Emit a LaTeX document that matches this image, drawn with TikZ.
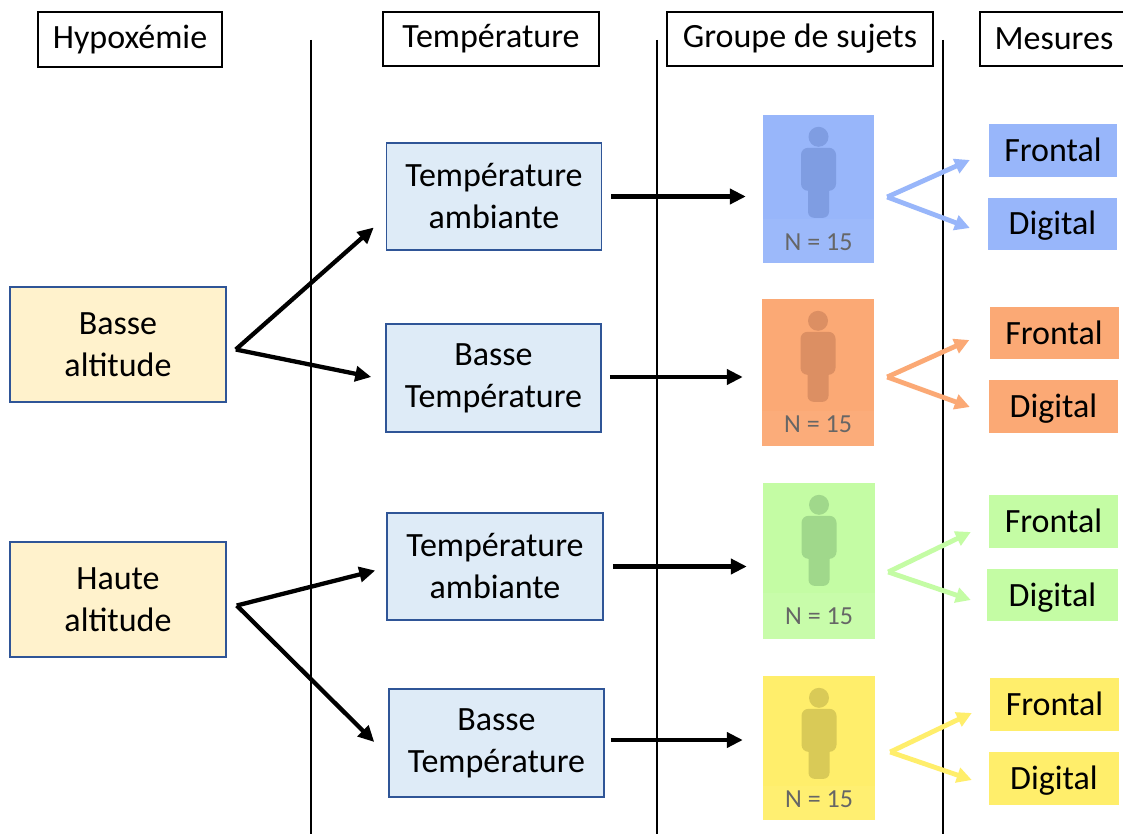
\documentclass[tikz,border=0pt]{standalone}
\usepackage{fontspec}
\setmainfont{Carlito}
\usetikzlibrary{arrows.meta,calc}
\definecolor{altfill}{HTML}{FFF2CC}
\definecolor{tempfill}{HTML}{DEEBF7}
\definecolor{boxborder}{HTML}{2F5597}
\definecolor{cblue}{HTML}{98B6FA}
\definecolor{cblueicon}{HTML}{7F9DE2}
\definecolor{corange}{HTML}{FBA975}
\definecolor{corangeicon}{HTML}{DC8F63}
\definecolor{cgreen}{HTML}{C4FCA4}
\definecolor{cgreenicon}{HTML}{A0D88B}
\definecolor{cyellow}{HTML}{FFEE6B}
\definecolor{cyellowicon}{HTML}{D9CA57}
\definecolor{ntext}{HTML}{666666}
\tikzset{
  bigfont/.style={font=\fontsize{34}{42}\selectfont},
  header/.style={draw=black, line width=1.3pt, font=\fontsize{34}{42}\selectfont, inner sep=0pt, anchor=center},
  altbox/.style={draw=boxborder, fill=altfill, line width=1.5pt, bigfont, align=center, minimum width=216pt, minimum height=115pt, inner sep=0pt},
  tempbox/.style={draw=boxborder, fill=tempfill, line width=1.5pt, bigfont, align=center, minimum width=215pt, minimum height=107pt, inner sep=0pt},
  grp/.style={draw=none, minimum width=111pt, inner sep=0pt},
  mes/.style={draw=none, bigfont, minimum width=129pt, minimum height=53pt, inner sep=0pt, text height=22pt, text depth=0pt},
  blk/.style={line width=4.3pt, -{Triangle[length=16pt,width=15pt]}},
  col/.style={line width=4.8pt, -{Triangle[length=15pt,width=15pt]}},
  divider/.style={line width=1.4pt, black},
  ntxt/.style={font=\fontsize{26}{30}\selectfont, text=ntext},
}
\newcommand\personicon[2]{%
  \fill[#2] ($(#1.north)+(0,22)$) circle (10);
  \fill[#2, rounded corners=7pt] ($(#1.north)+(-17.5,33)$) rectangle ($(#1.north)+(17.5,76)$);
  \fill[#2, rounded corners=6pt] ($(#1.north)+(-10.5,62)$) rectangle ($(#1.north)+(10.5,103)$);
}
\begin{document}
\begin{tikzpicture}[x=1pt,y=-1pt]
\useasboundingbox (0,0) rectangle (1123,834);
\fill[white] (0,0) rectangle (1123,834);

% dividers
\draw[divider] (311,40) -- (311,834);
\draw[divider] (657,40) -- (657,834);
\draw[divider] (943,40) -- (943,834);

% headers
\node[header, minimum width=184pt, minimum height=55pt] (h1) at (130,39.5) {Hypoxémie};
\node[header, minimum width=216pt, minimum height=54pt] (h2) at (491,39) {Température};
\node[header, minimum width=266pt, minimum height=54pt] (h3) at (800,39) {Groupe de sujets};
\node[header, minimum width=160pt, minimum height=54pt, text width=143pt, align=left] (h4) at (1060,39) {\hspace*{6pt}Mesures};

% altitude boxes
\node[altbox] (ba) at (118,344.5) {Basse\\altitude};
\node[altbox] (ha) at (118,599.5) {Haute\\altitude};

% temperature boxes
\node[tempbox] (ta1) at (494,196.5) {Température\\ambiante};
\node[tempbox, minimum height=108pt] (bt1) at (493.5,378) {Basse\\Température};
\node[tempbox, minimum width=216pt] (ta2) at (495,566.5) {Température\\ambiante};
\node[tempbox, minimum height=108pt] (bt2) at (496.5,743) {Basse\\Température};

% group boxes
\node[grp, fill=cblue, minimum height=148pt] (g1) at (818.5,189) {};
\node[grp, fill=corange, minimum width=112pt, minimum height=147pt] (g2) at (818,372.5) {};
\node[grp, fill=cgreen, minimum width=112pt, minimum height=156pt] (g3) at (819,561) {};
\node[grp, fill=cyellow, minimum width=112pt, minimum height=144pt] (g4) at (819,748) {};

\fill[cblue!96!white] ($(g1.north west)+(0,104)$) rectangle (g1.south east);
\fill[corange!96!white] ($(g2.north west)+(0,112)$) rectangle (g2.south east);
\fill[cgreen!93!white] ($(g3.north west)+(0,110)$) rectangle (g3.south east);
\fill[cyellow!96!white] ($(g4.north west)+(0,110)$) rectangle (g4.south east);

\personicon{g1}{cblueicon}
\personicon{g2}{corangeicon}
\personicon{g3}{cgreenicon}
\personicon{g4}{cyellowicon}

\node[ntxt] (n1) at ($(g1.south)+(0,-21)$) {N = 15};
\node[ntxt] (n2) at ($(g2.south)+(0,-22)$) {N = 15};
\node[ntxt] (n3) at ($(g3.south)+(0,-23)$) {N = 15};
\node[ntxt] (n4) at ($(g4.south)+(0,-21)$) {N = 15};

% measure boxes
\node[mes, fill=cblue, minimum width=128pt] (f1) at (1053,150.5) {Frontal};
\node[mes, fill=cblue, minimum height=52pt] (d1) at (1052.5,224) {Digital};
\node[mes, fill=corange, minimum height=52pt] (f2) at (1054,333) {Frontal};
\node[mes, fill=corange] (d2) at (1053.5,406.5) {Digital};
\node[mes, fill=cgreen] (f3) at (1053.5,521.5) {Frontal};
\node[mes, fill=cgreen, minimum width=131pt, minimum height=52pt] (d3) at (1052.5,595) {Digital};
\node[mes, fill=cyellow] (f4) at (1054.5,704.5) {Frontal};
\node[mes, fill=cyellow, minimum width=130pt] (d4) at (1054,778.5) {Digital};

% black arrows: altitude -> temperature
\draw[blk] ($(ba.east)+(9,5)$) -- ($(ta1.west)+(-12,31)$);
\draw[blk] ($(ba.east)+(9,5)$) -- ($(bt1.west)+(-14,-1)$);
\draw[blk] ($(ha.east)+(10,6)$) -- ($(ta2.west)+(-11,4)$);
\draw[blk] ($(ha.east)+(10,6)$) -- ($(bt2.west)+(-14,-1)$);

% black arrows: temperature -> group
\draw[blk] ($(ta1.east)+(9,0)$) -- ($(ta1.east -| g1.west)+(-17,0)$);
\draw[blk] ($(bt1.east)+(8,-1)$) -- ($(bt1.east -| g2.west)+(-19,-1)$);
\draw[blk] ($(ta2.east)+(9,0)$) -- ($(ta2.east -| g3.west)+(-16,0)$);
\draw[blk] ($(bt2.east)+(6,-3)$) -- ($(bt2.east -| g4.west)+(-20,-3)$);

% coloured forks
\coordinate (k1) at ($(g1.east)+(13,8)$);
\coordinate (k2) at ($(g2.east)+(13,4.5)$);
\coordinate (k3) at ($(g3.east)+(13,11)$);
\coordinate (k4) at ($(g4.east)+(15,4)$);
\draw[col, draw=cblue] (k1) -- ($(f1.west)+(-19,9.5)$);
\draw[col, draw=cblue] (k1) -- ($(d1.west)+(-18,4)$);
\draw[col, draw=corange] (k2) -- ($(f2.west)+(-20,7)$);
\draw[col, draw=corange] (k2) -- ($(d2.west)+(-19,0.5)$);
\draw[col, draw=cgreen] (k3) -- ($(f3.west)+(-18,10.5)$);
\draw[col, draw=cgreen] (k3) -- ($(d3.west)+(-16,5)$);
\draw[col, draw=cyellow] (k4) -- ($(f4.west)+(-18,8.5)$);
\draw[col, draw=cyellow] (k4) -- ($(d4.west)+(-17,1.5)$);
\end{tikzpicture}
\end{document}
